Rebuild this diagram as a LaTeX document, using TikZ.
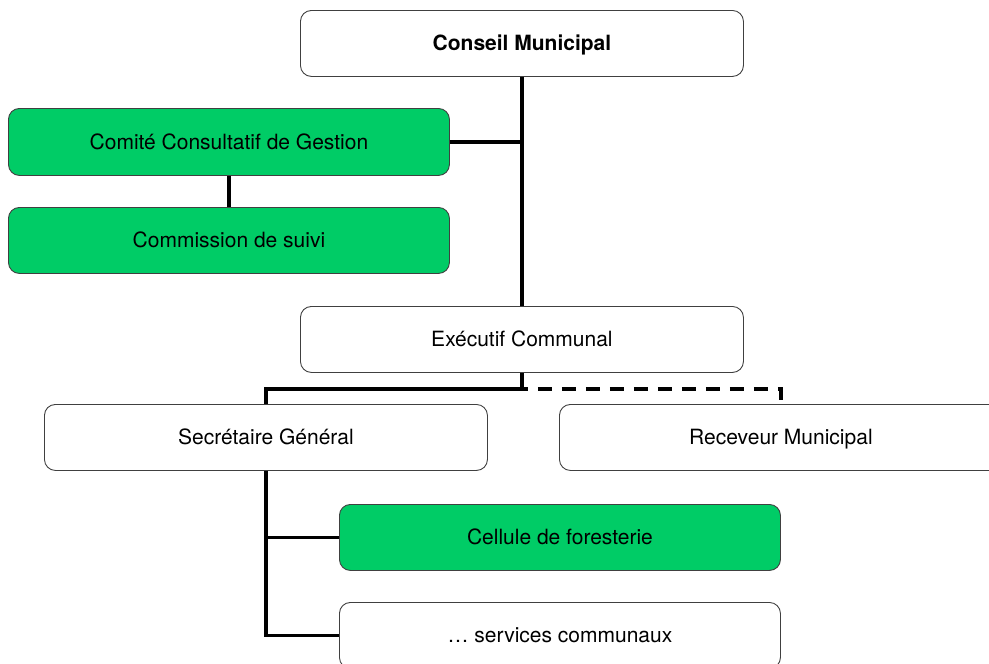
\documentclass[tikz,border=0pt]{standalone}
\usepackage{fontspec}
\usetikzlibrary{calc}
\setmainfont{TeX Gyre Heros}
\begin{document}
\begin{tikzpicture}[x=1pt,y=-1pt,
  orgbox/.style={draw=black!75, line width=0.9pt, rounded corners=11pt, fill=white,
    anchor=north west, minimum width=443pt, minimum height=66pt, inner sep=0pt,
    text height=17pt, text depth=2pt,
    font=\fontsize{21}{25}\selectfont},
  greenbox/.style={orgbox, fill=orggreen},
  link/.style={line width=3.2pt, draw=black},
  dashlink/.style={link, dash pattern=on 14pt off 10pt, dash phase=-16pt}]
\definecolor{orggreen}{RGB}{0,204,102}
\useasboundingbox (0,0) rectangle (989,664);

% boxes
\node[orgbox]   (conseil)    at (300,10)  {\textbf{Conseil Municipal}};
\node[greenbox, minimum width=441pt, minimum height=67pt] (comite) at (8,108) {Comité Consultatif de Gestion};
\node[greenbox, minimum width=441pt] (commission) at (8,207) {Commission de suivi};
\node[orgbox]   (executif)   at (300,306) {Exécutif Communal};
\node[orgbox]   (secretaire) at (44,404)  {Secrétaire Général};
\node[orgbox]   (receveur)   at (559,404) {Receveur Municipal};
\node[greenbox, minimum width=441pt] (cellule) at (339,504) {Cellule de foresterie};
\node[orgbox, minimum width=441pt] (services) at (339,602) {… services communaux};

% junction below the executive
\coordinate (split) at ($(executif.south)+(0,16)$);

% connectors
\draw[link] (conseil.south) -- (executif.north);
\draw[link] (comite.east) -- (comite.east -| conseil.south);
\draw[link] (comite.south) -- (commission.north);
\draw[link] (executif.south) -- (split) -| (secretaire.north);
\draw[dashlink] (split) -| (receveur.north);
\draw[link] (secretaire.south) |- (services.west);
\draw[link] (secretaire.south |- cellule.west) -- (cellule.west);
\end{tikzpicture}
\end{document}
